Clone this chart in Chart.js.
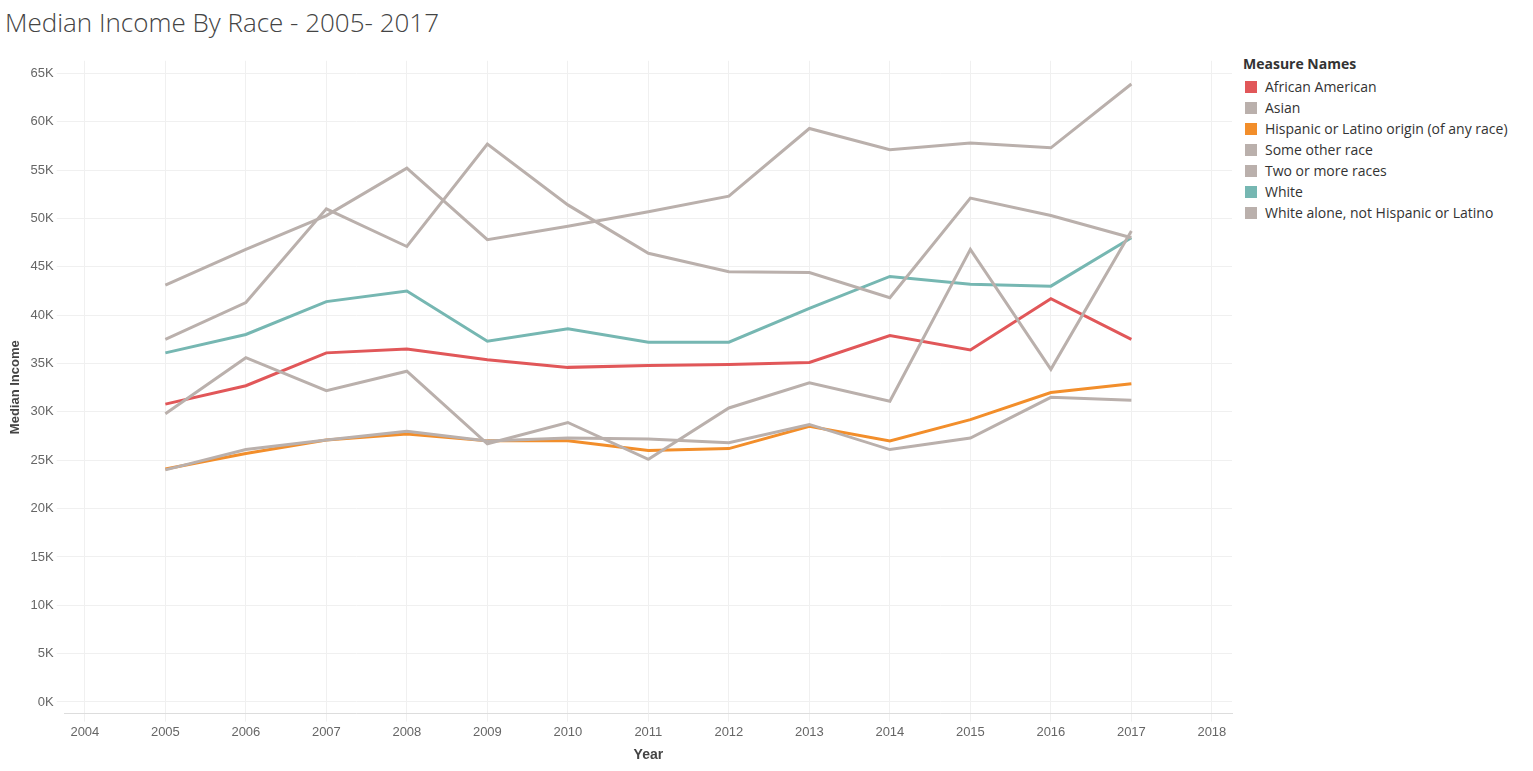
<!DOCTYPE html>
<html><head><meta charset="utf-8">
<script src="https://cdn.jsdelivr.net/npm/chart.js@4"></script>
<style>
body{margin:0;width:1533px;height:771px;background:#fff;font-family:"Open Sans",Lato,sans-serif;position:relative;overflow:hidden}
#title{position:absolute;left:5px;top:4px;font-size:26px;color:#444;font-weight:300}
#wrap{position:absolute;left:0;top:50px;width:1240px;height:718px}
#legend{position:absolute;left:1243px;top:54px;font-size:14px;color:#333}
#legend .h{font-weight:bold;margin-bottom:3px}
#legend .i{height:21px;display:flex;align-items:center}
#legend .s{width:12px;height:12px;margin-right:8px;margin-left:2px}
</style></head><body>
<div id="title">Median Income By Race - 2005- 2017</div>
<div id="wrap"><canvas id="c"></canvas></div>
<div id="legend"></div>
<script>
const years=[2005,2006,2007,2008,2009,2010,2011,2012,2013,2014,2015,2016,2017];
const africanAmerican=[30.8,32.7,36.1,36.5,35.4,34.6,34.8,34.9,35.1,37.9,36.4,41.7,37.5];
const asian=[43.1,46.8,50.3,55.2,47.8,49.2,50.7,52.3,59.3,57.1,57.8,57.3,63.9];
const hispanic=[24.1,25.7,27.1,27.7,27.0,27.0,26.0,26.2,28.5,27.0,29.2,32.0,32.9];
const someOther=[24.0,26.1,27.1,28.0,27.0,27.3,27.2,26.8,28.7,26.1,27.3,31.5,31.2];
const twoOrMore=[29.8,35.6,32.2,34.2,26.7,28.9,25.1,30.4,33.0,31.1,46.8,34.4,48.7];
const white=[36.1,38.0,41.4,42.5,37.3,38.6,37.2,37.2,40.7,44.0,43.2,43.0,48.0];
const whiteNonHisp=[37.5,41.3,51.0,47.1,57.7,51.4,46.4,44.5,44.4,41.8,52.1,50.3,48.0];
const names=["African American","Asian","Hispanic or Latino origin (of any race)","Some other race","Two or more races","White","White alone, not Hispanic or Latino"];
const series=[africanAmerican,asian,hispanic,someOther,twoOrMore,white,whiteNonHisp];
const colors=["#e15759","#bab0ac","#f28e2b","#bab0ac","#bab0ac","#76b7b2","#bab0ac"];
const order=[1,3,4,6,5,0,2];
const ds=order.map(i=>({label:names[i],data:years.map((y,j)=>({x:y,y:series[i][j]*1000})),borderColor:colors[i],backgroundColor:colors[i],borderWidth:3,pointRadius:0,tension:0}));
const lg=document.getElementById('legend');
lg.innerHTML='<div class="h">Measure Names</div>'+names.map((n,i)=>`<div class="i"><div class="s" style="background:${colors[i]}"></div>${n}</div>`).join('');
new Chart(document.getElementById('c'),{type:'line',data:{datasets:ds},options:{responsive:true,maintainAspectRatio:false,animation:false,
layout:{padding:{top:0,right:8,bottom:0,left:4}},
plugins:{legend:{display:false},tooltip:{enabled:false}},
scales:{x:{type:'linear',min:2003.75,max:2018.25,afterBuildTicks:a=>{a.ticks=[];for(let y=2004;y<=2018;y++)a.ticks.push({value:y});},
ticks:{color:'#666',font:{size:13},callback:v=>String(v)},grid:{color:'#f0f0f0'},border:{color:'#ddd'},
title:{display:true,text:'Year',color:'#444',font:{size:14,weight:'bold'}}},
y:{min:-1200,max:66300,afterBuildTicks:a=>{a.ticks=[];for(let v=0;v<=65000;v+=5000)a.ticks.push({value:v});},
ticks:{color:'#666',font:{size:13},callback:v=>(v/1000)+'K'},grid:{color:'#f0f0f0'},border:{display:false},
title:{display:true,text:'Median Income',color:'#444',font:{size:13,weight:'bold'}}}}}});
</script></body></html>
